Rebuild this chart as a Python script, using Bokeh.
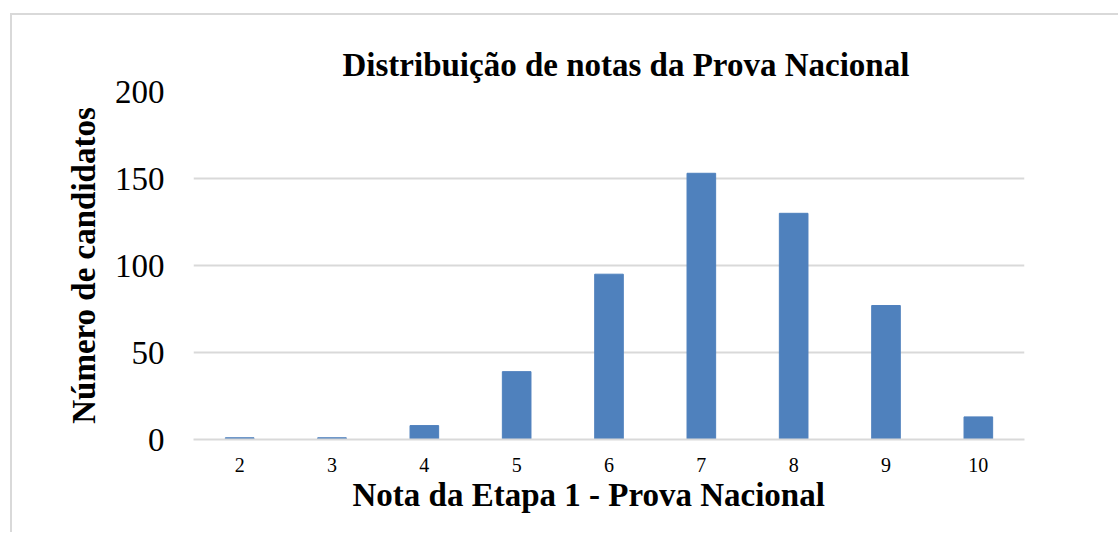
from bokeh.plotting import figure
from bokeh.models import Range1d, Title, FactorRange
from bokeh.embed import file_html
from bokeh.resources import INLINE

notas = ["2", "3", "4", "5", "6", "7", "8", "9", "10"]
candidatos = [1, 1, 8, 39, 95, 153, 130, 77, 13]
y_ticks = [0, 50, 100, 150, 200]

FONT = "Liberation Serif"
GRID = "#d9d9d9"

p = figure(
    x_range=FactorRange(*notas, range_padding=0),
    y_range=Range1d(0, 200),
    width=1108, height=519,
    output_backend="svg", toolbar_location=None,
    min_border_left=181, min_border_right=96,
    min_border_top=76, min_border_bottom=95,
    styles={"border-left": "2px solid #d9d9d9", "border-top": "2px solid #d9d9d9",
            "margin-left": "10px", "margin-top": "13px"},
)
p.outline_line_color = None

p.vbar(x=notas, top=candidatos, width=0.31, fill_color="#4f81bd", line_color="#4f81bd")

t = Title(text="Distribuição de notas da Prova Nacional", align="left",
          text_font=FONT, text_font_size="33px", text_font_style="bold",
          text_color="#000000", offset=149, standoff=17)
p.add_layout(t, "above")

xlab = Title(text="Nota da Etapa 1 - Prova Nacional", align="left",
             text_font=FONT, text_font_size="33px", text_font_style="bold",
             text_color="#000000", offset=159, standoff=0)
p.add_layout(xlab, "below")

p.yaxis.ticker = y_ticks
p.yaxis.axis_line_color = None
p.yaxis.major_tick_line_color = None
p.yaxis.minor_tick_line_color = None
p.yaxis.major_label_text_font = FONT
p.yaxis.major_label_text_font_size = "33px"
p.yaxis.major_label_text_color = "#000000"
p.yaxis.major_label_standoff = 23
p.yaxis.axis_label = "Número de candidatos"
p.yaxis.axis_label_text_font = FONT
p.yaxis.axis_label_text_font_size = "33px"
p.yaxis.axis_label_text_font_style = "bold"
p.yaxis.axis_label_text_color = "#000000"
p.yaxis.axis_label_standoff = 10

p.xaxis.axis_line_color = GRID
p.xaxis.axis_line_width = 2
p.xaxis.major_tick_line_color = None
p.xaxis.minor_tick_line_color = None
p.xaxis.major_label_text_font = FONT
p.xaxis.major_label_text_font_size = "20px"
p.xaxis.major_label_text_color = "#000000"
p.xaxis.major_label_standoff = 12

p.xgrid.grid_line_color = None
p.ygrid.grid_line_color = GRID
p.ygrid.grid_line_width = 2

open("out.html", "w").write(file_html(p, INLINE))
